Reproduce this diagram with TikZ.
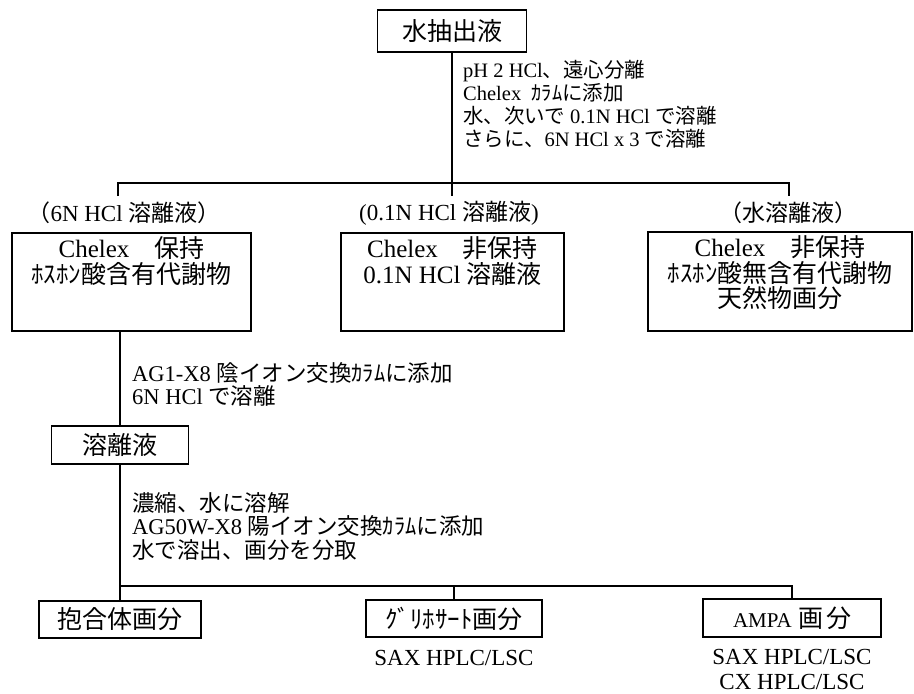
\documentclass[tikz,border=0pt]{standalone}
\usepackage{fontspec}
\setmainfont{Liberation Serif}
\newfontfamily\jpfont{Noto Sans CJK JP}
\newcommand{\ja}[1]{{\jpfont #1}}
\usetikzlibrary{positioning}

\begin{document}
\begin{tikzpicture}[x=1pt,y=-1pt,
    box/.style={draw,line width=1.5pt,inner sep=0pt,font=\fontsize{25}{25.5}\selectfont},
    tall/.style={box,anchor=north,inner sep=4pt},
    note/.style={inner sep=0pt,anchor=north west,align=left,font=\fontsize{20.5}{23}\selectfont},
    bignote/.style={note,font=\fontsize{22.5}{23.7}\selectfont},
    lbl/.style={inner sep=0pt,font=\fontsize{23}{25}\selectfont},
    method/.style={inner sep=0pt,align=center,font=\fontsize{23}{25}\selectfont},
    link/.style={line width=1.5pt}]

    \useasboundingbox (0,0) rectangle (914,694);

    % extraction and Chelex column
    \node[box,minimum width=149pt,minimum height=42pt] (ext) at (452,31) {\ja{水抽出液}};
    \node[note] (step1) at (463,60) {pH 2 HCl\ja{、遠心分離}\\Chelex\enspace\ja{ｶﾗﾑに添加}\\\ja{水、次いで} 0.1N HCl \ja{で溶離}\\\ja{さらに、}6N HCl x 3 \ja{で溶離}};

    \node[lbl] (lblA) at (124,213) {\ja{（}6N HCl \ja{溶離液）}};
    \node[lbl] (lblB) at (449,213) {(0.1N HCl \ja{溶離液})};
    \node[lbl] (lblC) at (788,213) {\ja{（水溶離液）}};

    \node[tall] (keep) at (131.5,232) {\parbox[t][90pt][t]{231pt}{\centering Chelex\quad\ja{保持}\\\ja{ﾎｽﾎﾝ酸含有代謝物}}};
    \node[tall] (pass) at (452.5,232) {\parbox[t][90pt][t]{215pt}{\centering Chelex\quad\ja{非保持}\\0.1N HCl \ja{溶離液}}};
    \node[tall] (natural) at (780,231) {\parbox[t][91pt][t]{256pt}{\centering Chelex\quad\ja{非保持}\\\ja{ﾎｽﾎﾝ酸無含有代謝物}\\\ja{天然物画分}}};

    % anion exchange
    \node[bignote] (step2) at (132,362) {AG1-X8 \ja{陰イオン交換ｶﾗﾑに添加}\\6N HCl \ja{で溶離}};
    \node[box,minimum width=137pt,minimum height=38pt] (elu) at (120,445) {\ja{溶離液}};

    % cation exchange
    \node[bignote] (step3) at (132,492) {\ja{濃縮、水に溶解}\\AG50W-X8 \ja{陽イオン交換ｶﾗﾑに添加}\\\ja{水で溶出、画分を分取}};

    \node[box,minimum width=162pt,minimum height=37pt] (conj) at (120,619.5) {\ja{抱合体画分}};
    \node[box,minimum width=176pt,minimum height=37pt] (gly) at (454,618.5) {\ja{ｸﾞﾘﾎｻｰﾄ画分}};
    \node[box,minimum width=178pt,minimum height=38pt] (ampa) at (792,618) {{\fontsize{21}{25}\selectfont AMPA} \ja{画\hspace{3pt}分}};

    \node[method] (glyhow) [below=12pt of gly] {SAX HPLC/LSC};
    \node[method] (ampahow) [below=11pt of ampa] {SAX HPLC/LSC\\CX HPLC/LSC};

    % connectors
    \coordinate (sp1) at (452,183);
    \coordinate (dA) at (118,196);
    \coordinate (dB) at (452,196);
    \coordinate (dC) at (789,196);
    \coordinate (sp2) at (120,586);

    \draw[link] (ext) -- (dB);
    \draw[link] (dA) |- (sp1) -| (dC);
    \draw[link] (keep.south -| elu.north) -- (elu.north);
    \draw[link] (elu) -- (conj);
    \draw[link] (sp2) -| (ampa.north);
    \draw[link] (sp2 -| gly.north) -- (gly.north);
\end{tikzpicture}
\end{document}
